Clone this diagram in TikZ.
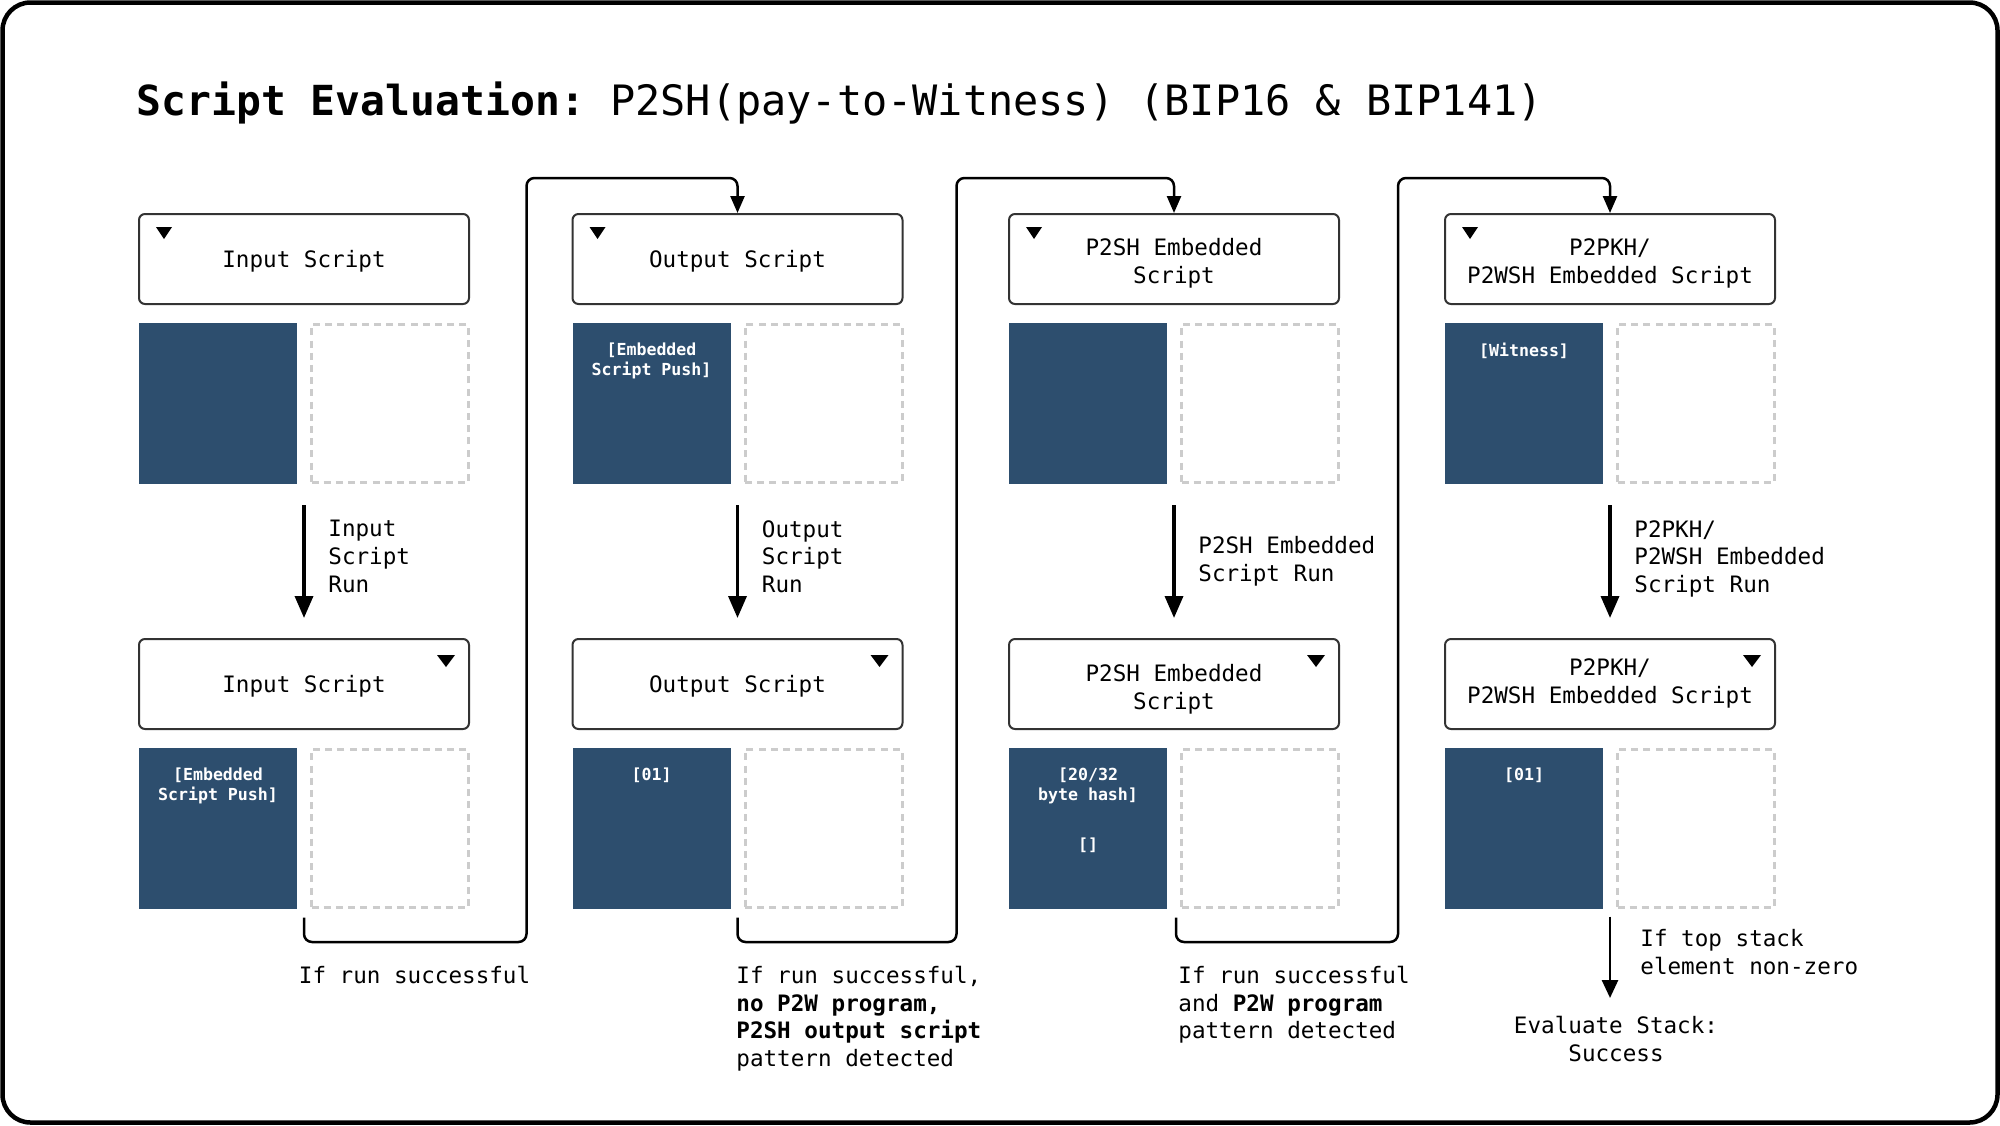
\documentclass[tikz,border=0pt]{standalone}
\usepackage{fontspec}
\setmainfont{DejaVu Sans Mono}
\setmonofont{DejaVu Sans Mono}
\usetikzlibrary{arrows.meta,calc}
\definecolor{stackblue}{HTML}{2D4E6E}
\definecolor{dashgray}{HTML}{CCCCCC}
\definecolor{boxline}{HTML}{333333}
\tikzset{
 hdr/.style={draw=boxline, line width=1pt, rounded corners=3pt, minimum width=165pt, minimum height=45pt, inner sep=0pt},
 htxt/.style={inner sep=0pt, align=center, font=\fontsize{11.3}{14}\selectfont},
 stk/.style={fill=stackblue, minimum width=79pt, minimum height=80.5pt, inner sep=0pt, outer sep=0pt},
 emp/.style={draw=dashgray, line width=1.5pt, dash pattern=on 3.5pt off 2.6pt, minimum width=78.5pt, minimum height=79pt, inner sep=0pt},
 stxt/.style={text=white, font=\bfseries\fontsize{8.3}{10}\selectfont, align=center, anchor=north, inner sep=0pt},
 lbl/.style={font=\fontsize{11.3}{13.8}\selectfont, align=left, anchor=north west, inner sep=0pt},
 dnarrow/.style={line width=1.75pt, -{Triangle[length=11pt,width=9pt]}},
 conn/.style={line width=1.25pt, rounded corners=4pt, -{Triangle[length=8.5pt,width=7pt]}},
 endarrow/.style={line width=1.35pt, -{Triangle[length=9pt,width=8pt]}},
 tri/.style={fill=black},
}
\begin{document}
\begin{tikzpicture}[x=0.5pt,y=-0.5pt]
\useasboundingbox (0,0) rectangle (2000,1125);
\draw[line width=2.25pt, rounded corners=14pt] (2.5,2.5) rectangle (1997.5,1122.5);

\node[anchor=base west, inner sep=0pt, font=\fontsize{20.7}{25}\selectfont] (title) at (136,115) {\textbf{Script Evaluation:}{\fontsize{20.93}{25}\selectfont\ P2SH(pay-to-Witness) (BIP16 \& BIP141)}};

% Column 1
\node[hdr] (h1a) at (304,259) {};
\node[htxt] (l1a) at ($(h1a.center)+(0,2.5)$) {Input Script};
\node[stk] (d1a) at (218,403.5) {};
\node[emp] (e1a) at (390,403.5) {};
\node[hdr] (h1b) at (304,684) {};
\node[htxt] (l1b) at ($(h1b.center)+(0,2.5)$) {Input Script};
\node[stk] (d1b) at (218,828.5) {};
\node[emp] (e1b) at (390,828.5) {};
\node[stxt] (t1b) at ($(d1b.north)+(0,19.5)$) {[Embedded\\Script Push]};

% Column 2
\node[hdr] (h2a) at (737.5,259) {};
\node[htxt] (l2a) at ($(h2a.center)+(0,2.5)$) {Output Script};
\node[stk] (d2a) at (651.5,403.5) {};
\node[emp] (e2a) at (823.5,403.5) {};
\node[hdr] (h2b) at (737.5,684) {};
\node[htxt] (l2b) at ($(h2b.center)+(0,2.5)$) {Output Script};
\node[stk] (d2b) at (651.5,828.5) {};
\node[emp] (e2b) at (823.5,828.5) {};
\node[stxt] (t2a) at ($(d2a.north)+(0,19.5)$) {[Embedded\\Script Push]};
\node[stxt] (t2b) at ($(d2b.north)+(0,19.5)$) {[01]};

% Column 3
\node[hdr] (h3a) at (1174,259) {};
\node[htxt] (l3a) at ($(h3a.center)+(0,4.5)$) {P2SH Embedded\\Script};
\node[stk] (d3a) at (1088,403.5) {};
\node[emp] (e3a) at (1260,403.5) {};
\node[hdr] (h3b) at (1174,684) {};
\node[htxt] (l3b) at ($(h3b.center)+(0,5)$) {P2SH Embedded\\Script};
\node[stk] (d3b) at (1088,828.5) {};
\node[emp] (e3b) at (1260,828.5) {};
\node[stxt] (t3b) at ($(d3b.north)+(0,19.5)$) {[20/32\\byte hash]};
\node[stxt] (t3c) at ($(d3b.north)+(0,89)$) {[]};

% Column 4
\node[hdr] (h4a) at (1610,259) {};
\node[htxt] (l4a) at ($(h4a.center)+(0,4.5)$) {P2PKH/\\P2WSH Embedded Script};
\node[stk] (d4a) at (1524,403.5) {};
\node[emp] (e4a) at (1696,403.5) {};
\node[hdr] (h4b) at (1610,684) {};
\node[htxt] (l4b) at ($(h4b.center)+(0,-1)$) {P2PKH/\\P2WSH Embedded Script};
\node[stk] (d4b) at (1524,828.5) {};
\node[emp] (e4b) at (1696,828.5) {};
\node[stxt] (t4a) at ($(d4a.north)+(0,19.5)$) {[Witness]};
\node[stxt] (t4b) at ($(d4b.north)+(0,19.5)$) {[01]};

% triangle markers
\foreach \h in {h1a,h2a,h3a,h4a}{
  \fill[tri] ($(\h.north west)+(18,14)$) -- ++(16,0) -- ++(-8,12) -- cycle;
}
\foreach \h in {h1b,h2b,h3b,h4b}{
  \fill[tri] ($(\h.north east)+(-33,17)$) -- ++(18,0) -- ++(-9,12) -- cycle;
}

% run arrows
\draw[dnarrow, shorten <=10.5pt, shorten >=10pt] (h1a.south |- e1a.south) -- (h1b.north);
\draw[dnarrow, shorten <=10.5pt, shorten >=10pt] (h2a.south |- e2a.south) -- (h2b.north);
\draw[dnarrow, shorten <=10.5pt, shorten >=10pt] (h3a.south |- e3a.south) -- (h3b.north);
\draw[dnarrow, shorten <=10.5pt, shorten >=10pt] (h4a.south |- e4a.south) -- (h4b.north);

\node[lbl] (r1) at (328,520) {Input\\Script\\Run};
\node[lbl] (r2) at (761.5,520) {Output\\Script\\Run};
\node[lbl] (r3) at (1198,536) {P2SH Embedded\\Script Run};
\node[lbl] (r4) at (1634,520) {P2PKH/\\P2WSH Embedded\\Script Run};

% connectors between columns
\coordinate (g1) at (526.5,942);
\coordinate (g2) at (956.5,942);
\coordinate (g3) at (1398,942);
\coordinate (top) at (0,178);
\draw[conn] ($(h1b.south |- e1b.south)+(0,8.5)$) -- (h1b.south |- g1) -- (g1) -- (g1 |- top) -- (h2a.north |- top) -- (h2a.north);
\draw[conn] ($(h2b.south |- e2b.south)+(0,8.5)$) -- (h2b.south |- g2) -- (g2) -- (g2 |- top) -- (h3a.north |- top) -- (h3a.north);
\draw[conn] ($(h3b.south |- e3b.south)+(2,8.5)$) -- ($(h3b.south |- g3)+(2,0)$) -- (g3) -- (g3 |- top) -- (h4a.north |- top) -- (h4a.north);

% condition labels
\node[lbl] (c1) at (298.5,966) {If run successful};
\node[lbl] (c2) at (736,966) {If run successful,\\\textbf{no P2W program,}\\\textbf{P2SH output script}\\pattern detected};
\node[lbl] (c3) at (1178,966) {If run successful\\and \textbf{P2W program}\\pattern detected};
\node[lbl] (c4) at (1640,929) {If top stack\\element non-zero};
\node[lbl, align=center, anchor=north] (res) at (1616,1016) {Evaluate Stack:\\Success};

\draw[endarrow, shorten <=3.75pt, shorten >=9pt] (h4b.south |- e4b.south) -- (h4b.south |- res.north);
\end{tikzpicture}
\end{document}
